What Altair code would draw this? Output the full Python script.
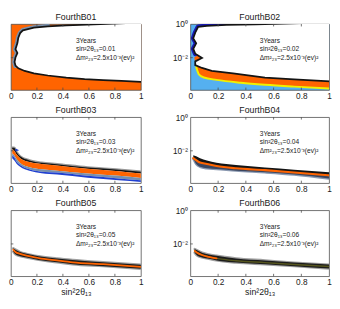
import altair as alt
import pandas as pd

# ---------------- text / axes ----------------
TITLES = ["FourthB01", "FourthB02", "FourthB03", "FourthB04", "FourthB05", "FourthB06"]
S13 = ["0.01", "0.02", "0.03", "0.04", "0.05", "0.06"]
X_TICKS = [0, 0.2, 0.4, 0.6, 0.8, 1]
Y_TICKS = [1, 0.01]
Y_DOMAIN = [1.2e-4, 1]
NOTE_X = 0.5
NOTE_LOG_Y = [-1.0, -1.5, -2.0]
X_TITLE = "sin²2θ₁₃"

ORANGE = "#ff6400"
LIGHTBLUE = "#55b0f0"
DARKBLUE = "#1818b0"
YELLOW = "#f0f000"
GRAYBLUE = "#7890ac"
BLUE = "#2040d0"
BLACK = "#141414"
FRAME = "#4d4d4d"
FONT = "Liberation Sans"

# ---------------- panel 1 (x, log10 y) ----------------
P1_WHITE_X = [0.092, 0.177, 0.284, 0.426, 0.638, 1.03, 1.03, 0.851, 0.709, 0.567, 0.426, 0.284,
              0.177, 0.106, 0.057, 0.035, 0.028, 0.035, 0.050, 0.035, 0.050, 0.057, 0.071]
P1_WHITE_E = [-0.376, -0.215, -0.134, -0.081, -0.027, 0.1, -3.45, -3.38, -3.33, -3.28, -3.19, -3.06,
              -2.93, -2.79, -2.63, -2.47, -2.26, -1.99, -1.72, -1.50, -1.13, -0.81, -0.54]
P1_EDGE_X = [0.035, 0.028, 0.035, 0.050, 0.035, 0.050, 0.057, 0.071, 0.092, 0.177, 0.284]
P1_EDGE_E = [-2.47, -2.26, -1.99, -1.72, -1.50, -1.13, -0.81, -0.54, -0.376, -0.215, -0.134]

# ---------------- panel 2 ----------------
P2_WHITE_X = [0.056, 0.119, 0.259, 0.469, 1.03, 1.03, 0.748, 0.538, 0.308, 0.154, 0.084, 0.035,
              0.035, 0.084, 0.035, 0.021, 0.042, 0.021, 0.035]
P2_WHITE_E = [-0.17, -0.114, -0.057, -0.017, 0.1, -3.42, -3.29, -3.18, -2.93, -2.78, -2.61, -2.44,
              -2.22, -2.02, -1.76, -1.48, -1.14, -0.85, -0.51]
P2_ORANGE_X = [0.028, 0.042, 0.063, 0.098, 0.189, 0.364, 0.538, 0.748, 1.03, 1.03, 0.538, 0.308, 0.119, 0.049]
P2_ORANGE_E = [-1.99, -2.56, -3.01, -3.18, -3.32, -3.49, -3.61, -3.72, -3.84, -3.01, -2.78, -2.56, -2.22, -1.87]
P2_YELLOW_X = [0.042, 0.063, 0.098, 0.189, 0.364, 0.538, 0.748, 1.0]
P2_YELLOW_E = [-2.56, -3.01, -3.18, -3.32, -3.49, -3.61, -3.72, -3.83]
P2_EDGE_X = [0.469, 0.259, 0.119, 0.056, 0.035, 0.021, 0.042, 0.021, 0.035]
P2_EDGE_E = [-0.017, -0.057, -0.114, -0.17, -0.51, -0.85, -1.14, -1.48, -1.76]

# ---------------- panel 3 ----------------
P3_X = [0.01, 0.025, 0.045, 0.071, 0.142, 0.236, 0.355, 0.59, 0.83, 1.0]
P3_T = [-1.82, -1.82, -2.10, -2.33, -2.57, -2.71, -2.80, -2.99, -3.12, -3.24]
P3_C1 = [-1.93, -1.99, -2.22, -2.44, -2.67, -2.78, -2.87, -3.07, -3.21, -3.35]
P3_C2 = [-2.16, -2.27, -2.50, -2.73, -2.98, -3.10, -3.18, -3.35, -3.49, -3.61]
P3_C3 = [-2.27, -2.39, -2.67, -2.84, -3.10, -3.24, -3.29, -3.49, -3.64, -3.75]
P3_B = [-2.44, -2.56, -2.78, -2.95, -3.18, -3.33, -3.41, -3.60, -3.75, -3.85]
P3_TIP_X = [0.035, 0.064, 0.035]
P3_TIP_E = [-1.87, -1.96, -2.04]

# ---------------- panel 4 ----------------
P4_X = [0.021, 0.042, 0.070, 0.119, 0.189, 0.329, 0.538, 0.748, 1.0]
P4_T = [-2.27, -2.33, -2.44, -2.58, -2.71, -2.84, -2.99, -3.12, -3.28]
P4_C = [-2.44, -2.56, -2.70, -2.78, -2.90, -3.04, -3.15, -3.29, -3.46]
P4_B = [-2.47, -2.78, -2.95, -3.04, -3.08, -3.18, -3.28, -3.41, -3.65]

# ---------------- panel 5 ----------------
P5_X = [0.018, 0.035, 0.071, 0.121, 0.213, 0.355, 0.475, 0.709, 1.0]
P5_T = [-2.26, -2.34, -2.48, -2.59, -2.73, -2.87, -2.96, -3.09, -3.24]
P5_C = [-2.34, -2.48, -2.59, -2.70, -2.84, -2.98, -3.09, -3.20, -3.36]
P5_B = [-2.45, -2.62, -2.73, -2.81, -2.95, -3.09, -3.21, -3.32, -3.48]

# ---------------- panel 6 ----------------
P6_X = [0.031, 0.049, 0.084, 0.133, 0.189, 0.329, 0.538, 0.748, 1.0]
P6_T = [-2.30, -2.38, -2.52, -2.63, -2.70, -2.86, -2.98, -3.11, -3.23]
P6_C = [-2.41, -2.52, -2.66, -2.77, -2.86, -3.00, -3.11, -3.22, -3.34]
P6_B = [-2.52, -2.69, -2.80, -2.88, -2.98, -3.11, -3.21, -3.32, -3.46]
P6_ORANGE_N = 5

LEFT_W, RIGHT_W, H = 134, 143, 68
TICK_LEN = 2.5
TITLE_GAP = 7

xs = alt.Scale(domain=[0, 1], nice=False)
ys = alt.Scale(type="log", domain=Y_DOMAIN, nice=False)
Y_LABEL_EXPR = "datum.value >= 1 ? '10⁰' : '10⁻²'"


def axes(k):
    left = k % 2 == 0
    bottom = k >= 4
    xaxis = alt.Axis(values=X_TICKS, format="~g", labelFlush=False, ticks=False, domain=False,
                     grid=False, labelPadding=2, labelFontSize=8.5, labelColor="#1a1a1a",
                     title=X_TITLE if bottom else None, titleFontSize=9, titleFontWeight="normal",
                     titlePadding=1, titleColor="#1a1a1a")
    if left:
        yaxis = alt.Axis(values=Y_TICKS, labels=False, ticks=False, domain=False, grid=False, title=None)
    else:
        yaxis = alt.Axis(values=Y_TICKS, labelExpr=Y_LABEL_EXPR,
                         ticks=False, domain=False, grid=False, labelPadding=3,
                         labelFontSize=8.5, labelColor="#1a1a1a", title=None)
    return xaxis, yaxis


def xy(ax):
    return dict(x=alt.X("x:Q", scale=xs, axis=ax[0]), y=alt.Y("y:Q", scale=ys, axis=ax[1]))


def pts(x, e):
    return pd.DataFrame({"x": x, "y": [10 ** v for v in e], "i": list(range(len(x)))})


def poly(ax, x, e, fill, stroke=None, sw=0):
    kw = dict(fill=fill, interpolate="linear-closed", clip=True)
    if stroke:
        kw.update(stroke=stroke, strokeWidth=sw)
    else:
        kw.update(strokeOpacity=0)
    return alt.Chart(pts(x, e)).mark_line(**kw).encode(order="i:Q", **xy(ax))


def path(ax, x, e, color, sw, interp="linear"):
    return alt.Chart(pts(x, e)).mark_line(stroke=color, strokeWidth=sw, clip=True,
                                          interpolate=interp, strokeJoin="round",
                                          strokeCap="round").encode(order="i:Q", **xy(ax))


def band(ax, x, top, bot, color):
    df = pd.DataFrame({"x": x, "y": [10 ** v for v in top], "y2": [10 ** v for v in bot]})
    return alt.Chart(df).mark_area(color=color, clip=True, interpolate="monotone").encode(
        y2="y2:Q", **xy(ax))


def inward_ticks(ax):
    tx = pd.DataFrame({"x": X_TICKS[1:-1]})
    ty = pd.DataFrame({"y": Y_TICKS[1:]})
    sty = dict(color=FRAME, strokeWidth=0.8)
    top = alt.Chart(tx).mark_rule(**sty).encode(
        x=alt.X("x:Q", scale=xs, axis=ax[0]), y=alt.value(0), y2=alt.value(TICK_LEN))
    bot = alt.Chart(tx).mark_rule(**sty).encode(
        x=alt.X("x:Q", scale=xs, axis=ax[0]), y=alt.value(H), y2=alt.value(H - TICK_LEN))
    lft = alt.Chart(ty).mark_rule(**sty).encode(
        y=alt.Y("y:Q", scale=ys, axis=ax[1]), x=alt.value(0), x2=alt.value(TICK_LEN))
    return [top, bot, lft]


def notes(ax, k):
    df = pd.DataFrame({
        "x": [NOTE_X] * 3,
        "y": [10 ** v for v in NOTE_LOG_Y],
        "t": ["3Years", "sin²2θ₁₃=" + S13[k], "Δm²₂₃=2.5x10⁻³(ev)²"],
    })
    return alt.Chart(df).mark_text(align="left", baseline="middle", fontSize=6.8, font=FONT,
                                   color="#1a1a1a").encode(text="t:N", **xy(ax))


def panel_title(k, w):
    df = pd.DataFrame({"t": [TITLES[k]]})
    return alt.Chart(df).mark_text(align="center", baseline="middle", fontSize=9, font=FONT,
                                   color="#1a1a1a").encode(
        text="t:N", x=alt.value(w / 2), y=alt.value(-TITLE_GAP))


def panel(k, builders, fill="white"):
    ax = axes(k)
    w = LEFT_W if k % 2 == 0 else RIGHT_W
    layers = [b(ax) for b in builders] + inward_ticks(ax) + [notes(ax, k), panel_title(k, w)]
    return alt.layer(*layers).properties(
        width=w, height=H,
        view=alt.ViewBackground(fill=fill, stroke=FRAME, strokeWidth=0.8),
    )


p1 = panel(0, [
    lambda a: path(a, P1_EDGE_X, P1_EDGE_E, GRAYBLUE, 5),
    lambda a: poly(a, P1_WHITE_X, P1_WHITE_E, "white", BLACK, 1.8),
], fill=ORANGE)

p2 = panel(1, [
    lambda a: poly(a, P2_ORANGE_X, P2_ORANGE_E, ORANGE),
    lambda a: path(a, P2_YELLOW_X, P2_YELLOW_E, YELLOW, 2, "monotone"),
    lambda a: path(a, P2_EDGE_X, P2_EDGE_E, DARKBLUE, 5),
    lambda a: poly(a, P2_WHITE_X, P2_WHITE_E, "white", BLACK, 1.8),
], fill=LIGHTBLUE)

p3 = panel(2, [
    lambda a: path(a, P3_X, P3_T, "#999999", 2.5, "monotone"),
    lambda a: band(a, P3_X, P3_T, P3_C1, BLACK),
    lambda a: band(a, P3_X, P3_C1, P3_C2, ORANGE),
    lambda a: band(a, P3_X, P3_C2, P3_C3, GRAYBLUE),
    lambda a: band(a, P3_X, P3_C3, P3_B, BLUE),
    lambda a: poly(a, P3_TIP_X, P3_TIP_E, BLUE),
])

p4 = panel(3, [
    lambda a: path(a, P4_X, P4_B, "#8a98b0", 2.5, "monotone"),
    lambda a: band(a, P4_X, P4_T, P4_C, BLACK),
    lambda a: band(a, P4_X, P4_C, P4_B, "#3a4660"),
    lambda a: path(a, P4_X, P4_C, ORANGE, 2.2, "monotone"),
])

p5 = panel(4, [
    lambda a: path(a, P5_X, P5_T, "#a0a0a0", 2.5, "monotone"),
    lambda a: path(a, P5_X, P5_B, "#a0a0a0", 2.5, "monotone"),
    lambda a: band(a, P5_X, P5_T, P5_B, "#1c1c1c"),
    lambda a: path(a, P5_X, P5_C, ORANGE, 1.8, "monotone"),
])

p6 = panel(5, [
    lambda a: path(a, P6_X, P6_T, "#a0a0a0", 2.5, "monotone"),
    lambda a: path(a, P6_X, P6_B, "#a0a0a0", 2.5, "monotone"),
    lambda a: band(a, P6_X, P6_T, P6_B, "#1c1c1c"),
    lambda a: path(a, P6_X, P6_C, "#55551e", 1.5, "monotone"),
    lambda a: path(a, P6_X[:P6_ORANGE_N], P6_C[:P6_ORANGE_N], ORANGE, 1.8, "monotone"),
])

chart = alt.concat(
    p1, p2, p3, p4, p5, p6, columns=2, bounds="flush", align="each",
    spacing={"row": 28, "column": 51},
).properties(
    padding={"left": 0, "top": 0, "right": 0, "bottom": 0}
).configure(font=FONT).configure_view(stroke=FRAME, strokeWidth=0.8)

chart.save("out.html", embed_options={"renderer": "svg", "actions": False})
